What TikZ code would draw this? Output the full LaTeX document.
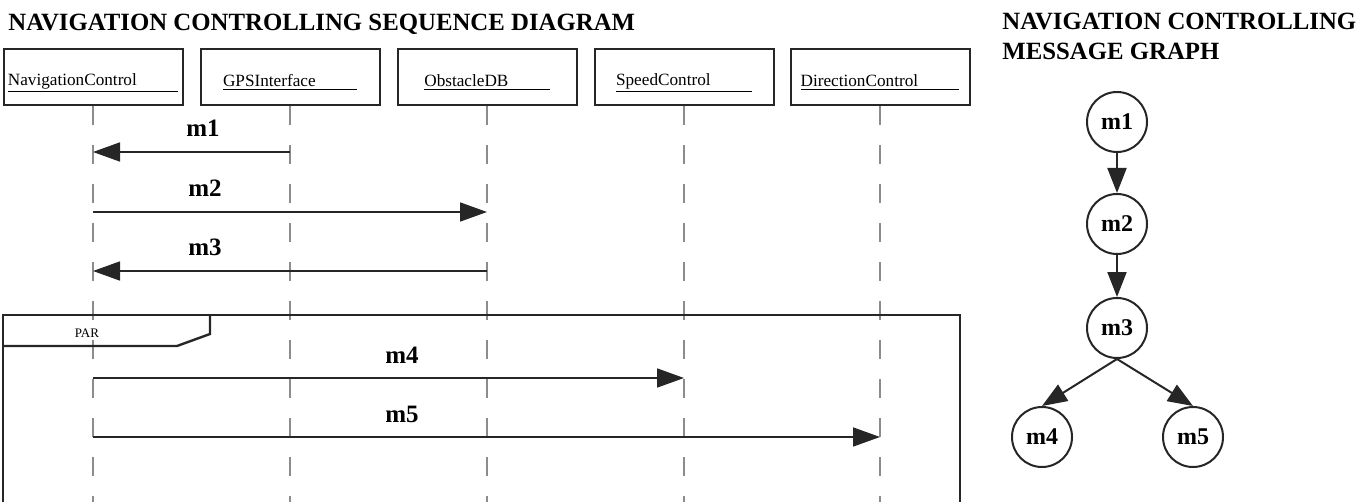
\documentclass[tikz,border=0pt]{standalone}
\usepackage{fontspec}
\setmainfont{Liberation Serif}
\usepackage{tikz}
\usetikzlibrary{arrows.meta,positioning}

\newcommand{\lname}[1]{\underline{#1\hspace*{2.4em}}}

\begin{document}
\begin{tikzpicture}[
    x=0.5pt, y=-0.5pt,
    node distance=20pt and 20pt,
    obj/.style={rectangle, draw=black!85, line width=1pt, minimum width=89.5pt, minimum height=28pt, inner sep=0pt, text height=12pt, font=\fontsize{8.6}{10}\selectfont},
    lifeline/.style={draw=black!45, line width=0.8pt, dash pattern=on 9.5pt off 10pt},
    msg/.style={-{Triangle[length=13.5pt, width=9.5pt]}, line width=0.9pt, draw=black!85},
    msglabel/.style={font=\fontsize{12.5}{14}\selectfont\bfseries, anchor=base, inner sep=0pt},
    frame/.style={draw=black!85, line width=1.2pt},
    mnode/.style={circle, draw=black!85, line width=1pt, minimum size=30pt, inner sep=0pt, font=\fontsize{12}{14}\selectfont\bfseries},
    flow/.style={-{Triangle[length=12.5pt, width=9.5pt]}, line width=1pt, draw=black!85},
    title/.style={font=\fontsize{12.4}{15}\selectfont\bfseries, inner sep=0pt}
]
    \useasboundingbox (0,0) rectangle (1364,502);

    % titles
    \node [title, anchor=base west] (seqtitle) at (8,31) {NAVIGATION CONTROLLING SEQUENCE DIAGRAM};
    \node [title, anchor=north west, align=left] (graphtitle) at (1002,13) {NAVIGATION CONTROLLING\\MESSAGE GRAPH};

    % objects
    \node [obj] (nav) at (93,77) {\lname{NavigationControl}};
    \node [obj] (gps) at (290,77) {\lname{GPSInterface}};
    \node [obj] (obs) at (487,77) {\lname{ObstacleDB}};
    \node [obj] (spd) at (684,77) {\lname{SpeedControl}};
    \node [obj] (dir) at (880,77) {\lname{DirectionControl}};

    \coordinate (t1) at (0,152);
    \coordinate (t2) at (0,212);
    \coordinate (t3) at (0,271);
    \coordinate (t4) at (0,378);
    \coordinate (t5) at (0,437);
    \coordinate (bottom) at (0,502);

    % lifelines
    \foreach \o in {nav,gps,obs,spd,dir}
        \draw [lifeline] (\o.south) -- (\o |- bottom);

    % par fragment
    \draw [frame] (3,502) -- (3,315) -- (960,315) -- (960,502);
    \draw [frame] (3,346) -- (177,346) -- (210,334) -- (210,315);
    \node [font=\fontsize{6.5}{8}\selectfont, anchor=base, inner sep=0pt] (par) at (87,337) {PAR};

    % messages
    \draw [msg] (gps |- t1) -- (nav |- t1);
    \draw [msg] (nav |- t2) -- (obs |- t2);
    \draw [msg] (obs |- t3) -- (nav |- t3);
    \draw [msg] (nav |- t4) -- (spd |- t4);
    \draw [msg] (nav |- t5) -- (dir |- t5);
    \node [msglabel] (l1) at (203,137) {m1};
    \node [msglabel] (l2) at (205,197) {m2};
    \node [msglabel] (l3) at (205,256) {m3};
    \node [msglabel] (l4) at (402,363) {m4};
    \node [msglabel] (l5) at (402,422) {m5};

    % message graph
    \node [mnode] (g1) at (1117,122) {m1};
    \node [mnode, below=20pt of g1] (g2) {m2};
    \node [mnode, below=21pt of g2] (g3) {m3};
    \node [mnode] (g4) at (1042,437) {m4};
    \node [mnode] (g5) at (1193,437) {m5};

    \draw [flow] (g1) -- (g2);
    \draw [flow] (g2) -- (g3);
    \draw [flow] (g3.south) -- (g4.north);
    \draw [flow] (g3.south) -- (g5.north);
\end{tikzpicture}
\end{document}
